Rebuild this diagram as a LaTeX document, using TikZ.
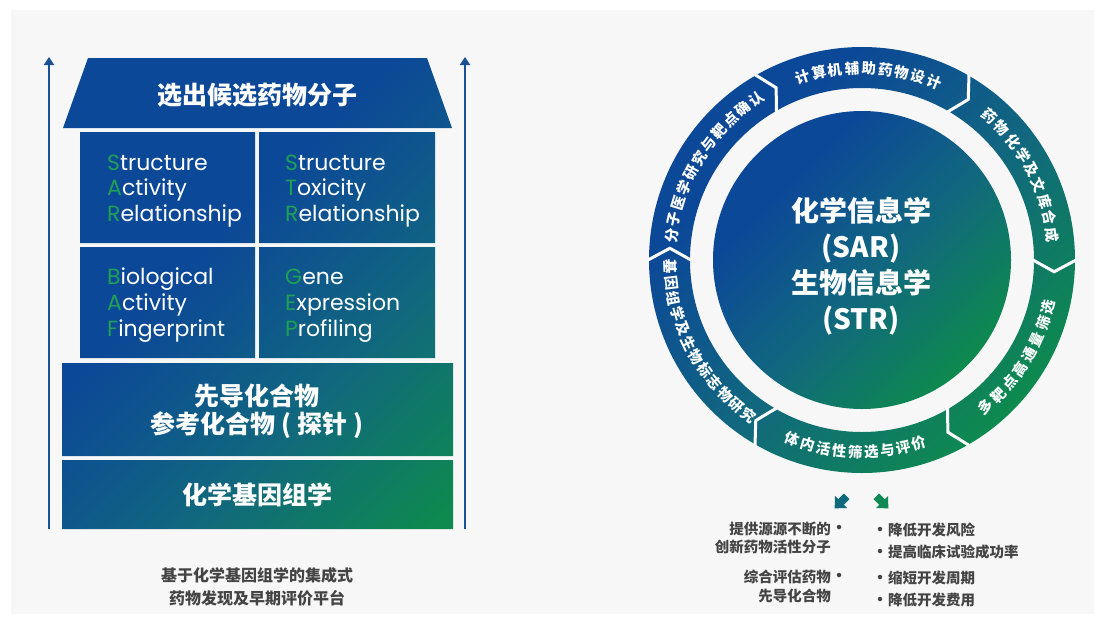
\documentclass[tikz,border=0pt]{standalone}
\usepackage{fontspec}
\setmainfont{Poppins}
\newfontfamily\cjk{Noto Sans CJK SC}
\usetikzlibrary{arrows.meta}
\definecolor{cblue}{HTML}{0C4898}
\definecolor{cteal}{HTML}{11677F}
\definecolor{cgreen}{HTML}{0E8A4E}
\definecolor{lgreen}{HTML}{1FA055}
\definecolor{bgc}{HTML}{F7F7F7}
\definecolor{txtgrey}{HTML}{444444}
\definecolor{arrblue}{HTML}{1A5296}
\definecolor{arrteal}{HTML}{0F6A7C}
\definecolor{arrgreen}{HTML}{0F8A55}
\pgfdeclarehorizontalshading{housegrad}{100bp}{color(0bp)=(cblue); color(42bp)=(cblue); color(63bp)=(cteal); color(84bp)=(cgreen); color(100bp)=(cgreen)}
\pgfdeclarehorizontalshading{ringgrad}{100bp}{color(0bp)=(cblue); color(32bp)=(cblue); color(53bp)=(cteal); color(75bp)=(cgreen); color(100bp)=(cgreen)}
\begin{document}
\begin{tikzpicture}[x=1pt,y=-1pt,
  celltxt/.style={text=white, font=\fontsize{22}{26}\selectfont, anchor=base west, inner sep=0pt},
  cjkhead/.style={text=white, font=\cjk\bfseries\fontsize{25}{28}\selectfont, inner sep=0pt},
  captxt/.style={text=txtgrey, font=\cjk\bfseries\fontsize{16}{23}\selectfont, align=center, inner sep=0pt},
  ringtxt/.style={text=white, font=\cjk\bfseries\fontsize{14.5}{15}\selectfont, inner sep=0pt},
  centertxt/.style={text=white, font=\cjk\bfseries\fontsize{28}{36}\selectfont, align=center, inner sep=0pt},
  bultxt/.style={text=txtgrey, font=\cjk\bfseries\fontsize{14.5}{18}\selectfont, inner sep=0pt},
  dot/.style={circle, fill=txtgrey, inner sep=0pt, minimum size=4.5pt},
  uparrow/.style={draw=arrblue, line width=2.5pt, -{Triangle[length=8pt,width=10pt]}}]
\useasboundingbox (0,0) rectangle (1105,624);
\fill[white] (0,0) rectangle (1105,624);
\fill[bgc] (11,10) rectangle (1094,614);

% ---------- left: house ----------
\shade[shading=housegrad, shading angle=-45]
  (88,58) -- (427,58) -- (452,128) -- (63,128) -- cycle
  (80,132) rectangle (255,243) (259,132) rectangle (435,243)
  (80,247) rectangle (255,358) (259,247) rectangle (435,358)
  (62,363) rectangle (453,456) (62,460) rectangle (453,529);

\coordinate (lb) at (49,529); \coordinate (lt) at (49,57);
\coordinate (rb) at (465,529); \coordinate (rt) at (465,57);
\draw[uparrow] (lb) -- (lt);
\draw[uparrow] (rb) -- (rt);

\node[cjkhead] (roof) at (257,95) {选出候选药物分子};

\node[celltxt] (sar1) at (107,170) {{\color{lgreen}S}tructure};
\node[celltxt] (sar2) at (107,195) {{\color{lgreen}A}ctivity};
\node[celltxt] (sar3) at (107,221) {{\color{lgreen}R}elationship};
\node[celltxt] (str1) at (285,170) {{\color{lgreen}S}tructure};
\node[celltxt] (str2) at (285,195) {{\color{lgreen}T}oxicity};
\node[celltxt] (str3) at (285,221) {{\color{lgreen}R}elationship};
\node[celltxt] (baf1) at (107,284) {{\color{lgreen}B}iological};
\node[celltxt] (baf2) at (107,310) {{\color{lgreen}A}ctivity};
\node[celltxt] (baf3) at (107,336) {{\color{lgreen}F}ingerprint};
\node[celltxt] (gep1) at (285,284) {{\color{lgreen}G}ene};
\node[celltxt] (gep2) at (285,310) {{\color{lgreen}E}xpression};
\node[celltxt] (gep3) at (285,336) {{\color{lgreen}P}rofiling};

\node[cjkhead, align=center] (lead) at (257,411) {先导化合物\\参考化合物 ( 探针 )};
\node[cjkhead] (chemgen) at (257,495) {化学基因组学};

\node[captxt] (cap) at (257,587) {基于化学基因组学的集成式\\药物发现及早期评价平台};

% ---------- right: ring ----------
\begin{scope}[shift={(862,260)}, x=1pt, y=1pt]
  \shade[shading=ringgrad, shading angle=-45, even odd rule]
    (0,0) circle[radius=213] (0,0) circle[radius=172];
  \foreach \b in {0,60,...,300}
    \draw[white, line width=3pt, line join=miter] (\b:214) -- (\b-3.5:192.5) -- (\b:171);
  \shade[shading=ringgrad, shading angle=-45] (0,0) circle[radius=149];
  \foreach \c/\d/\n/\st/\txt [count=\s] in {
      88/-1/9/5/{计,算,机,辅,助,药,物,设,计},
      28/-1/9/5.1/{药,物,化,学,及,文,库,合,成},
      -32/1/8/5.1/{多,靶,点,高,通,量,筛,选},
      268/1/9/4.8/{体,内,活,性,筛,选,与,评,价},
      208/1/12/4.72/{基,因,组,学,及,生,物,标,志,物,研,究},
      148/-1/11/4.95/{分,子,医,学,研,究,与,靶,点,确,认}} {
    \foreach \ch [count=\i] in \txt {
      \pgfmathsetmacro\ang{\c + \d*(\i - 1 - (\n-1)/2)*\st}
      \pgfmathsetmacro\rot{\ang + \d*90}
      \node[ringtxt, rotate=\rot] (seg\s-\i) at (\ang:192) {\ch};
    }
  }
\end{scope}
\node[centertxt] (core) at (861,266) {化学信息学\\(SAR)\\生物信息学\\(STR)};

% ---------- bottom arrows ----------
\begin{scope}[shift={(841,502)}, rotate=225]
  \fill[arrteal] (-8,-4) -- (0,-4) -- (0,-8.5) -- (9,0) -- (0,8.5) -- (0,4) -- (-8,4) -- cycle;
\end{scope}
\begin{scope}[shift={(882,502)}, rotate=-45]
  \fill[arrgreen] (-8,-4) -- (0,-4) -- (0,-8.5) -- (9,0) -- (0,8.5) -- (0,4) -- (-8,4) -- cycle;
\end{scope}

% ---------- bullets ----------
\node[bultxt, anchor=east] (l1) at (831,529) {提供源源不断的};
\node[dot] (l1b) at (839,527) {};
\node[bultxt, anchor=east] (l2) at (831,547) {创新药物活性分子};
\node[bultxt, anchor=east] (l3) at (831,577) {综合评估药物};
\node[dot] (l3b) at (839,575) {};
\node[bultxt, anchor=east] (l4) at (831,596) {先导化合物};

\node[dot] (r1b) at (880,529) {};
\node[bultxt, anchor=west] (r1) at (888,530) {降低开发风险};
\node[dot] (r2b) at (880,551) {};
\node[bultxt, anchor=west] (r2) at (888,552) {提高临床试验成功率};
\node[dot] (r3b) at (880,577) {};
\node[bultxt, anchor=west] (r3) at (888,578) {缩短开发周期};
\node[dot] (r4b) at (880,599) {};
\node[bultxt, anchor=west] (r4) at (888,600) {降低开发费用};
\end{tikzpicture}
\end{document}
